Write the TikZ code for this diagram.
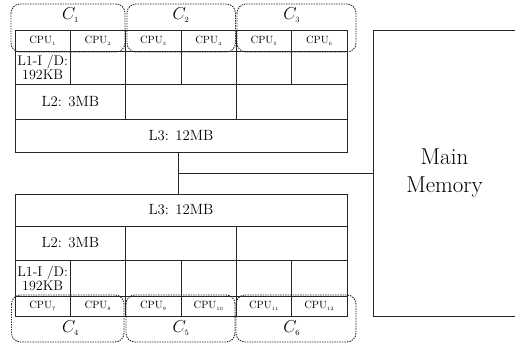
\documentclass[tikz,border=0pt]{standalone}
\begin{document}
\begin{tikzpicture}[x=1pt,y=-1pt,
  cell/.style={draw=black!85, line width=0.8pt, rectangle, inner sep=0pt, outer sep=0pt, anchor=north west},
  cpu/.style={font=\fontsize{10.5}{12}\selectfont},
  lone/.style={font=\fontsize{14}{10.5}\selectfont, align=center},
  lab/.style={font=\fontsize{14.8}{17}\selectfont},
  grp/.style={draw=black!85, line width=0.9pt, dash pattern=on 1.4pt off 1.1pt, rounded corners=9pt},
  glab/.style={font=\fontsize{17}{20}\selectfont, inner sep=0pt}]
\useasboundingbox (0,0) rectangle (515,348);
% ---------- top chip ----------
\foreach \i in {1,...,6}
  \node[cell, cpu, minimum width=55.33pt, minimum height=21pt] (t-cpu\i) at ({15+(\i-1)*55.333},30) {CPU$_{\scriptscriptstyle \i}$};
\node[cell, lone, minimum width=55.33pt, minimum height=33pt] (t-l1-1) at (15,51) {L1-I /D:\\192KB};
\foreach \i in {2,...,6}
  \node[cell, minimum width=55.33pt, minimum height=33pt] (t-l1-\i) at ({15+(\i-1)*55.333},51) {};
\node[cell, lab, minimum width=110.67pt, minimum height=35pt] (t-l2-1) at (15,84) {L2: 3MB};
\node[cell, minimum width=110.67pt, minimum height=35pt] (t-l2-2) at (125.67,84) {};
\node[cell, minimum width=110.67pt, minimum height=35pt] (t-l2-3) at (236.33,84) {};
\node[cell, lab, minimum width=332pt, minimum height=33pt] (t-l3) at (15,119) {L3: 12MB};
% ---------- bottom chip ----------
\node[cell, lab, minimum width=332pt, minimum height=32pt] (b-l3) at (15,194) {L3: 12MB};
\node[cell, lab, minimum width=110.67pt, minimum height=34pt] (b-l2-1) at (15,226) {L2: 3MB};
\node[cell, minimum width=110.67pt, minimum height=34pt] (b-l2-2) at (125.67,226) {};
\node[cell, minimum width=110.67pt, minimum height=34pt] (b-l2-3) at (236.33,226) {};
\node[cell, lone, minimum width=55.33pt, minimum height=36pt] (b-l1-1) at (15,260) {L1-I /D:\\192KB};
\foreach \i in {2,...,6}
  \node[cell, minimum width=55.33pt, minimum height=36pt] (b-l1-\i) at ({15+(\i-1)*55.333},260) {};
\foreach \i/\n in {1/7,2/8,3/9,4/10,5/11,6/12}
  \node[cell, cpu, minimum width=55.33pt, minimum height=20pt] (b-cpu\i) at ({15+(\i-1)*55.333},296) {CPU$_{\scriptscriptstyle \n}$};
% ---------- main memory ----------
\node[cell, minimum width=143pt, minimum height=286pt, font=\fontsize{23}{28}\selectfont, align=center] (mem) at (373,30) {Main\\Memory};
% ---------- connectors ----------
\coordinate (j) at (178,173);
\draw[draw=black!85, line width=0.8pt] (t-l3.south -| j) -- (b-l3.north -| j);
\draw[draw=black!85, line width=0.8pt] (j) -- (mem.west);
% ---------- core groups ----------
\draw[grp] (11,4) rectangle (125,52);
\draw[grp] (127,4) rectangle (235.5,52);
\draw[grp] (237,4) rectangle (356,52);
\draw[grp] (11.5,295) rectangle (124,342);
\draw[grp] (126,295) rectangle (235,342);
\draw[grp] (236,295) rectangle (356,342);
\node[glab] (c1) at (70.5,15) {$C_{\scriptscriptstyle 1}$};
\node[glab] (c2) at (181,15) {$C_{\scriptscriptstyle 2}$};
\node[glab] (c3) at (291.7,15) {$C_{\scriptscriptstyle 3}$};
\node[glab] (c4) at (70.5,328) {$C_{\scriptscriptstyle 4}$};
\node[glab] (c5) at (181,328) {$C_{\scriptscriptstyle 5}$};
\node[glab] (c6) at (291.7,328) {$C_{\scriptscriptstyle 6}$};
\end{tikzpicture}
\end{document}
